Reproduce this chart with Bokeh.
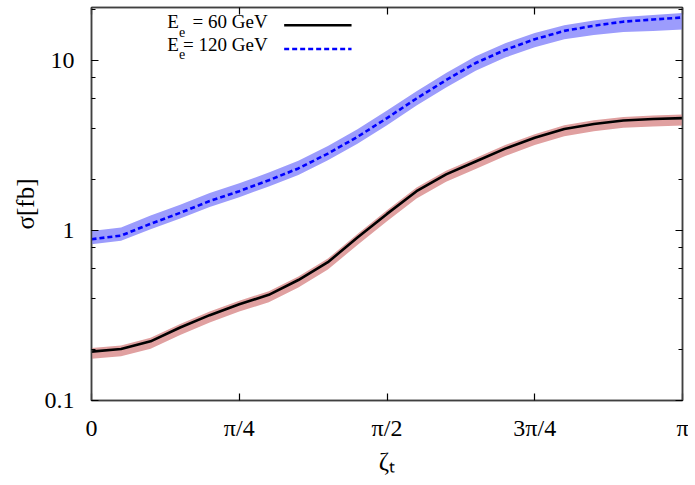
from bokeh.plotting import figure
from bokeh.models import LinearAxis, LogAxis, FixedTicker, Label, LogTicker, Range1d, Title
from bokeh.embed import file_html
from bokeh.resources import INLINE

# zeta_t in units of pi
zeta_frac = [0.0, 0.05, 0.1, 0.15, 0.2, 0.25, 0.3, 0.35, 0.4, 0.45, 0.5,
             0.55, 0.6, 0.65, 0.7, 0.75, 0.8, 0.85, 0.9, 0.95, 1.0]

# E_e = 60 GeV
sigma_60 = [0.194, 0.201, 0.223, 0.269, 0.318, 0.369, 0.419, 0.512, 0.652, 0.911, 1.255,
            1.708, 2.145, 2.553, 3.04, 3.52, 3.97, 4.25, 4.45, 4.54, 4.60]
sigma_60_hi = [0.204, 0.211, 0.234, 0.282, 0.334, 0.387, 0.44, 0.538, 0.685, 0.957, 1.318,
               1.793, 2.252, 2.681, 3.19, 3.70, 4.17, 4.46, 4.67, 4.77, 4.83]
sigma_60_lo = [0.176, 0.182, 0.202, 0.243, 0.288, 0.334, 0.379, 0.463, 0.59, 0.824, 1.136,
               1.546, 1.941, 2.31, 2.75, 3.19, 3.59, 3.85, 4.03, 4.11, 4.16]

# E_e = 120 GeV
sigma_120 = [0.890, 0.935, 1.098, 1.273, 1.494, 1.708, 1.980, 2.325, 2.842, 3.567, 4.6,
             6.0, 7.7, 9.7, 11.6, 13.4, 15.0, 16.1, 17.0, 17.5, 18.0]
sigma_120_hi = [0.997, 1.045, 1.226, 1.42, 1.665, 1.90, 2.20, 2.58, 3.15, 3.95, 5.1,
                6.62, 8.48, 10.65, 12.7, 14.6, 16.2, 17.3, 18.1, 18.6, 19.1]
sigma_120_lo = [0.832, 0.872, 1.02, 1.18, 1.38, 1.575, 1.82, 2.13, 2.60, 3.25, 4.18,
                5.45, 6.96, 8.75, 10.45, 12.0, 13.4, 14.2, 14.8, 15.0, 15.3]

x_ticks = [0.0, 0.25, 0.5, 0.75, 1.0]
x_tick_labels = ["0", "π/4", "π/2", "3π/4", "π"]
y_ticks = [0.1, 1, 10]
y_tick_labels = ["0.1", "1", "10"]

legend_labels = ["= 60 GeV", "= 120 GeV"]

FONT = "Liberation Serif"
AX = "#404040"

p = figure(width=688, height=477, output_backend="svg", toolbar_location=None,
           y_axis_type="log", x_range=Range1d(0, 1), y_range=Range1d(0.1, 20.6),
           min_border_left=91, min_border_right=6, min_border_top=7, min_border_bottom=72,
           x_axis_location=None, y_axis_location=None)
p.background_fill_color = "white"
p.border_fill_color = "white"
p.outline_line_color = AX
p.outline_line_width = 1.5
p.xgrid.visible = False
p.ygrid.visible = False

# bands
p.varea(x=zeta_frac, y1=sigma_60_lo, y2=sigma_60_hi, fill_color="#e0a0a0", fill_alpha=1.0)
p.varea(x=zeta_frac, y1=sigma_120_lo, y2=sigma_120_hi, fill_color="#9c9cfc", fill_alpha=1.0)
# lines
p.line(zeta_frac, sigma_60, line_color="black", line_width=2.6)
p.line(zeta_frac, sigma_120, line_color="#0000ff", line_width=2.6, line_dash="5 3")

xt = FixedTicker(ticks=x_ticks, minor_ticks=[])
overrides_x = dict(zip(x_ticks, x_tick_labels))
overrides_y = dict(zip(y_ticks, y_tick_labels))


def style(ax, labels=True):
    ax.axis_line_color = AX
    ax.axis_line_width = 1.5
    ax.major_tick_line_color = "black"
    ax.minor_tick_line_color = "black"
    ax.major_tick_line_width = 1.2
    ax.minor_tick_line_width = 1.0
    ax.major_tick_in = 7
    ax.major_tick_out = 0
    ax.minor_tick_in = 4
    ax.minor_tick_out = 0
    if labels:
        ax.major_label_text_font = FONT
        ax.major_label_text_font_size = "24px"
        ax.major_label_text_color = "black"
    else:
        ax.major_label_text_font_size = "0px"
        ax.major_label_standoff = 0
        ax.major_label_text_alpha = 0


xb = LinearAxis(ticker=xt, major_label_overrides=overrides_x, axis_label="ζₜ")
style(xb)
xb.major_label_standoff = 14
xb.axis_label_text_font = FONT
xb.axis_label_text_font_size = "25px"
xb.axis_label_text_font_style = "normal"
xb.axis_label_text_color = "black"
xb.axis_label_standoff = 4
p.add_layout(xb, "below")

xa = LinearAxis(ticker=xt, major_label_overrides=overrides_x)
style(xa, labels=False)
p.add_layout(xa, "above")

yt = LogTicker(desired_num_ticks=3, mantissas=[1])
yl = LogAxis(ticker=yt, major_label_overrides=overrides_y)
style(yl)
yl.major_label_standoff = 17
p.add_layout(yl, "left")

ytitle = Title(text="σ[fb]", align="center", text_font=FONT, text_font_size="25px",
               text_font_style="normal", text_color="black", standoff=6, offset=0)
p.add_layout(ytitle, "left")

yr = LogAxis(ticker=LogTicker(desired_num_ticks=3, mantissas=[1]))
style(yr, labels=False)
p.add_layout(yr, "right")

# legend (text on the left, line sample on the right)
leg_y_text = [14.75, 10.84]
leg_y_sub = [13.9, 10.2]
leg_y_line = [16.2, 11.74]
leg_colors = ["black", "#0000ff"]
leg_dash = ["solid", "5 3"]
for i in range(2):
    p.add_layout(Label(x=0.128, y=leg_y_text[i], text="E", text_font=FONT,
                       text_font_size="19px", text_color="black"))
    p.add_layout(Label(x=0.148, y=leg_y_sub[i], text="e", text_font=FONT,
                       text_font_size="14px", text_color="black"))
    p.add_layout(Label(x=0.298, y=leg_y_text[i], text=legend_labels[i], text_align="right",
                       text_font=FONT, text_font_size="19px", text_color="black"))
    p.line([0.326, 0.44], [leg_y_line[i], leg_y_line[i]], line_color=leg_colors[i],
           line_width=2.6, line_dash=leg_dash[i])

open("out.html", "w").write(file_html(p, INLINE))
